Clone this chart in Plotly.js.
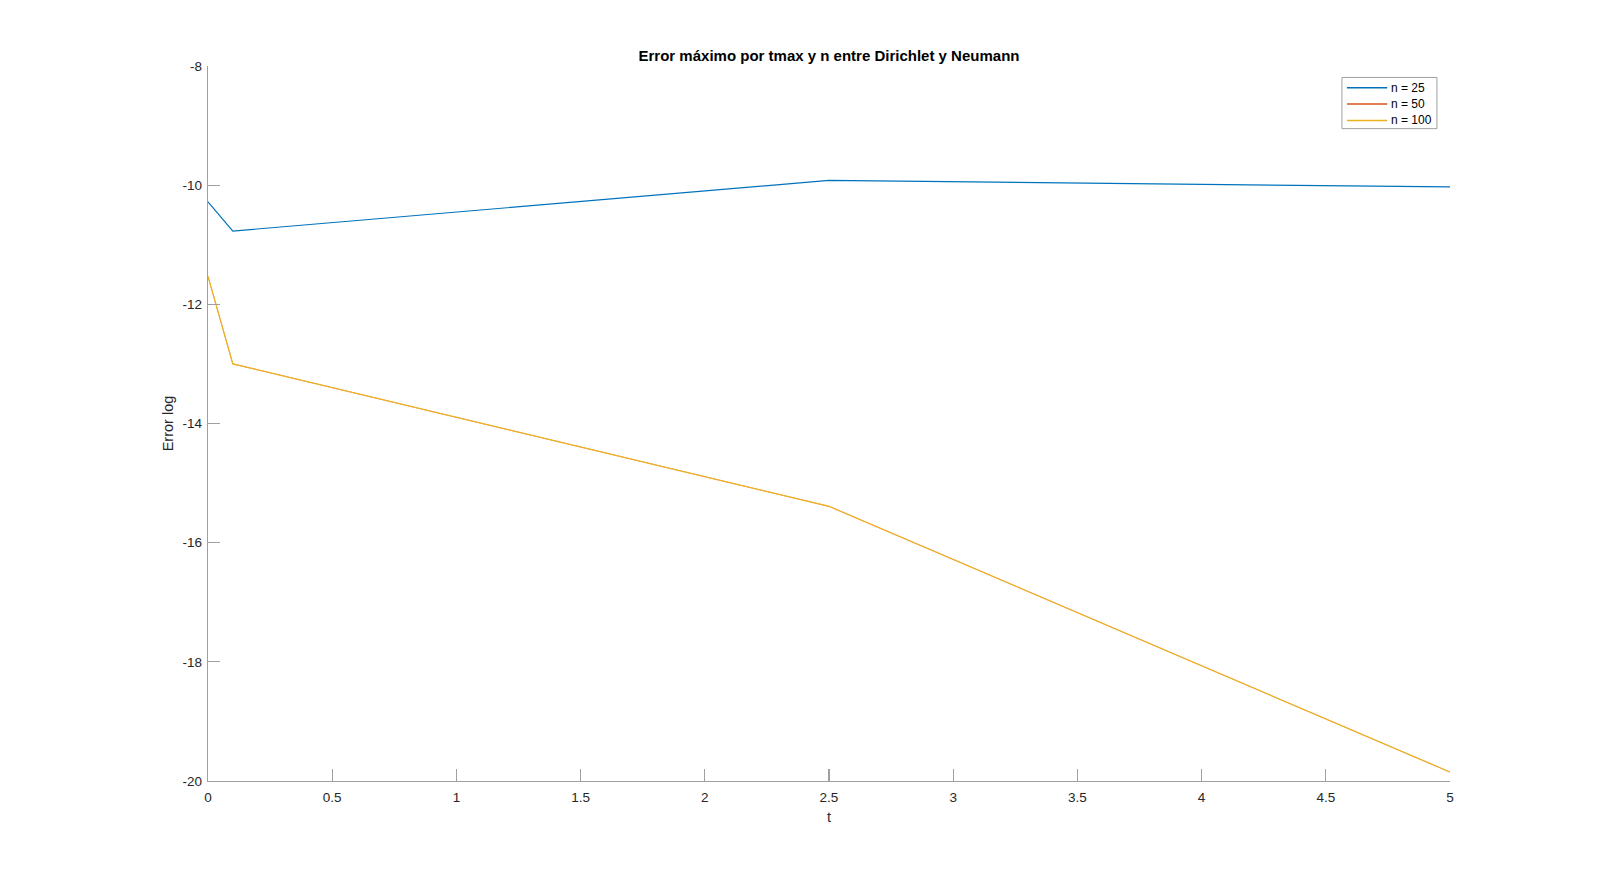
<!DOCTYPE html>
<html>
<head>
<meta charset="utf-8">
<script src="https://cdn.plot.ly/plotly-3.0.1.min.js"></script>
<style>html,body{margin:0;padding:0;background:#fff;}#chart{width:1600px;height:878px;}</style>
</head>
<body>
<div id="chart"></div>
<script>
const tValues = [0, 0.1, 2.5, 5];
const seriesNames = ["n = 25", "n = 50", "n = 100"];
const err25 = [-10.28, -10.77, -9.92, -10.03];
const err50 = [-11.53, -13.0, -15.39, -19.85];
const err100 = [-11.53, -13.0, -15.39, -19.85];
const seriesColors = ["#0072BD", "#D95319", "#EDB120"];
const xTicks = [0, 0.5, 1, 1.5, 2, 2.5, 3, 3.5, 4, 4.5, 5];
const yTicks = [-20, -18, -16, -14, -12, -10, -8];

const allSeries = [err25, err50, err100];
const lineWidths = [1.2, 0.6, 1.2];
const traces = allSeries.map((ys, i) => ({
  x: tValues, y: ys, type: "scatter", mode: "lines",
  name: seriesNames[i], showlegend: false,
  line: {color: seriesColors[i], width: lineWidths[i]}
}));

const FONT = "Liberation Sans, Arial, sans-serif";
const axisCommon = {
  showgrid: false, zeroline: false, showline: true,
  linecolor: "#a0a0a0", linewidth: 1.3,
  ticks: "inside", ticklen: 12, tickwidth: 1.3, tickcolor: "#a0a0a0",
  tickfont: {family: FONT, size: 13.5, color: "#262626"},
  mirror: false
};

// Manual MATLAB-style legend (paper coordinates)
const legBox = {x0: 0.913, x1: 0.9895, y0: 0.9124, y1: 0.984};
const legRows = [0.9695, 0.9467, 0.9239];
const shapes = [{
  type: "rect", xref: "paper", yref: "paper",
  x0: legBox.x0, x1: legBox.x1, y0: legBox.y0, y1: legBox.y1,
  line: {color: "#a0a0a0", width: 1}, fillcolor: "#fff", layer: "above"
}];
const annotations = [];
seriesNames.forEach((nm, i) => {
  shapes.push({
    type: "line", xref: "paper", yref: "paper",
    x0: 0.917, x1: 0.9495, y0: legRows[i], y1: legRows[i],
    line: {color: seriesColors[i], width: 1.5}, layer: "above"
  });
  annotations.push({
    xref: "paper", yref: "paper", x: 0.9505, y: legRows[i],
    xanchor: "left", yanchor: "middle", showarrow: false,
    text: nm, font: {family: FONT, size: 12, color: "#000"}
  });
});

const layout = {
  width: 1600, height: 878,
  paper_bgcolor: "#fff", plot_bgcolor: "#fff",
  margin: {l: 208, r: 150, t: 66, b: 97},
  title: {
    text: "<b>Error máximo por tmax y n entre Dirichlet y Neumann</b>",
    font: {family: FONT, size: 15, color: "#000"},
    x: 0.5, xref: "paper", xanchor: "center",
    y: 1, yref: "paper", yanchor: "bottom", pad: {b: 5}
  },
  xaxis: Object.assign({}, axisCommon, {
    range: [0, 5], tickvals: xTicks, ticktext: xTicks.map(String),
    ticklabelstandoff: 3,
    title: {text: "t", font: {family: FONT, size: 14.5, color: "#262626"}, standoff: 8}
  }),
  yaxis: Object.assign({}, axisCommon, {
    range: [-20, -8], tickvals: yTicks, ticktext: yTicks.map(String),
    ticklabelstandoff: 2,
    title: {text: "Error log", font: {family: FONT, size: 14.5, color: "#262626"}, standoff: 5}
  }),
  showlegend: false,
  shapes: shapes,
  annotations: annotations
};

Plotly.newPlot("chart", traces, layout, {displayModeBar: false, staticPlot: true});
</script>
</body>
</html>
